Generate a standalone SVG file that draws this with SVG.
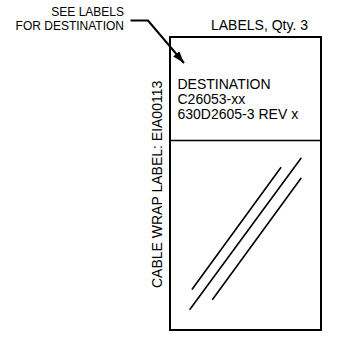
<svg xmlns="http://www.w3.org/2000/svg" width="343" height="338" viewBox="0 0 343 338">
<style>
text{font-family:"Liberation Sans",Arial,sans-serif;fill:#000}
.t14{font-size:14px}
.t12{font-size:12px}
.ln{stroke:#000;fill:none}
</style>
<defs>
<marker id="ah" viewBox="0 0 12 8" refX="12" refY="4" markerWidth="12" markerHeight="8" markerUnits="userSpaceOnUse" orient="auto">
<path d="M0,0 L12,4 L0,8 Z" fill="#000"/>
</marker>
</defs>
<rect width="343" height="338" fill="#fff"/>
<g id="callout">
<text class="t12" x="124" y="16" text-anchor="end">SEE LABELS</text>
<text class="t12" x="124" y="30" text-anchor="end">FOR DESTINATION</text>
</g>
<g id="connectors">
<path class="ln" stroke-width="2" d="M130.5,20.5 H148 L184,63" marker-end="url(#ah)"/>
</g>
<g id="label">
<text class="t14" x="211" y="30">LABELS, Qty. 3</text>
<rect class="ln" stroke-width="2" x="170" y="37" width="151" height="293"/>
<line class="ln" stroke-width="1.5" x1="170" y1="140.5" x2="321" y2="140.5"/>
<text class="t14" x="177.5" y="89">DESTINATION</text>
<text class="t14" x="177.5" y="104">C26053-xx</text>
<text class="t14" x="177.5" y="119">630D2605-3 REV x</text>
<g class="ln" stroke-width="1.6" stroke-linecap="round">
<line x1="192.3" y1="289" x2="280.7" y2="167.7"/>
<line x1="190" y1="309.3" x2="301" y2="158.3"/>
<line x1="212.7" y1="299.3" x2="301" y2="178.3"/>
</g>
</g>
<g id="side-label">
<text class="t14" transform="translate(162,288) rotate(-90)">CABLE WRAP LABEL: EIA00113</text>
</g>
</svg>
